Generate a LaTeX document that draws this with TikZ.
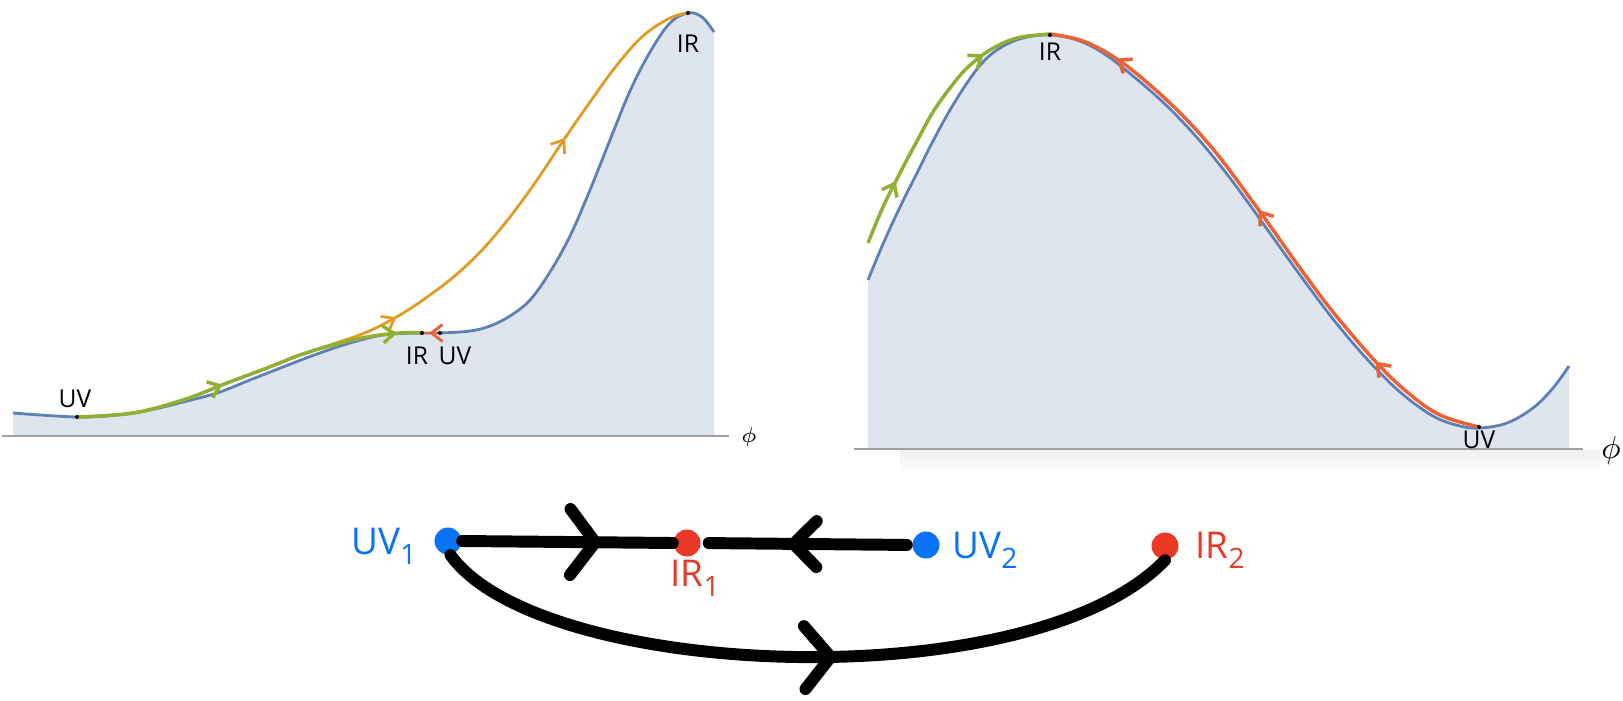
\documentclass[tikz,border=0pt]{standalone}
\usepackage{fontspec}
\setmainfont{Open Sans}
\usetikzlibrary{arrows.meta,decorations.markings}
\definecolor{pblue}{HTML}{5E81B5}
\definecolor{pfill}{HTML}{DFE5EF}
\definecolor{porange}{HTML}{E19C24}
\definecolor{pgreen}{HTML}{8FB032}
\definecolor{pred}{HTML}{EB6235}
\definecolor{hblue}{HTML}{0A72F5}
\definecolor{hred}{HTML}{EA3A27}
\newcommand\hsub[1]{\raisebox{-0.5ex}{\fontsize{8}{9}\selectfont #1}}
\tikzset{
  fa/.tip={Straight Barb[length=1.1mm,width=1.7mm]},
  curve/.style={line width=0.8pt},
  flow/.style={line width=0.8pt, postaction={decorate}},
  plab/.style={font=\fontsize{7}{8}\selectfont, inner sep=0pt},
  pdot/.style={fill=black},
  hand/.style={line width=3.4pt, line cap=round, line join=round, black, postaction={decorate}},
  hdot/.style={circle, minimum size=2.7mm, inner sep=0pt, draw=none},
  hlab/.style={font=\fontsize{10.5}{12}\selectfont, inner sep=0pt},
}
\begin{document}
\begin{tikzpicture}[x=0.1mm, y=-0.1mm]
\useasboundingbox (0,0) rectangle (1623,701);

% ---------------- left plot ----------------
\fill[pfill] (13,436) -- plot[smooth,tension=0.6] coordinates{(13,413) (77,417) (117,415) (150,410) (183,402) (217,393) (250,380) (283,367) (317,354) (350,343) (383,335) (417,333) (440,333) (470,331) (490,326) (510,316) (530,300) (550,272) (570,236) (590,190) (610,140) (630,91) (650,52) (670,23) (688,13) (702,17) (714,32)} -- (714,436) -- cycle;
\draw[gray!75, line width=0.6pt] (2,436) -- (729,436);
\node[font=\fontsize{6}{7}\selectfont, inner sep=0pt] (phiL) at (749,437) {$\phi$};
\draw[pblue, curve] plot[smooth,tension=0.6] coordinates{(13,413) (77,417) (117,415) (150,410) (183,402) (217,393) (250,380) (283,367) (317,354) (350,343) (383,335) (417,333) (440,333) (470,331) (490,326) (510,316) (530,300) (550,272) (570,236) (590,190) (610,140) (630,91) (650,52) (670,23) (688,13) (702,17) (714,32)};
% orange
\draw[porange, flow, decoration={markings, mark=at position 0.44 with {\arrow{fa}}, mark=at position 0.765 with {\arrow{fa}}}]
  plot[smooth,tension=0.6] coordinates{(77,417) (133,413) (183,400) (227,383) (267,368) (300,355) (333,344) (367,332) (400,315) (430,295) (457,274) (483,249) (510,217) (537,180) (563,141) (590,102) (617,65) (643,36) (670,18) (688,13)};
% green
\draw[pgreen, flow, line width=1pt, decoration={markings, mark=at position 0.42 with {\arrow{fa}}, mark=at position 0.93 with {\arrow{fa}}}]
  plot[smooth,tension=0.6] coordinates{(77,417) (133,413) (183,400) (227,383) (267,368) (300,355) (333,345) (367,337) (400,333) (422,333)};
% red
\draw[pred, flow, decoration={markings, mark=at position 0.6 with {\arrow{fa}}}] (440,333) -- (422,333);
\fill[pdot] (77,417) circle[radius=0.2mm];
\fill[pdot] (422,333) circle[radius=0.2mm];
\fill[pdot] (440,333) circle[radius=0.2mm];
\fill[pdot] (688,13) circle[radius=0.2mm];
\node[plab] (uvA) at (75,399) {UV};
\node[plab] (irA) at (417,356) {IR};
\node[plab] (uvB) at (455,356) {UV};
\node[plab] (irB) at (688,44) {IR};

% ---------------- right plot ----------------
\shade[top color=black!6, bottom color=white] (900,450) rectangle (1600,474);
\fill[pfill] (868,449) -- plot[smooth,tension=0.6] coordinates{(868,280) (883,244) (900,207) (917,173) (933,141) (950,110) (967,83) (983,62) (1000,48) (1023,38) (1050,35) (1077,40) (1103,53) (1133,76) (1167,106) (1200,141) (1233,182) (1267,229) (1300,275) (1333,319) (1367,359) (1400,392) (1433,416) (1460,426) (1480,428) (1507,423) (1533,408) (1553,388) (1569,366)} -- (1569,449) -- cycle;
\draw[gray!75, line width=0.6pt] (854,449) -- (1583,449);
\node[font=\fontsize{9}{10}\selectfont, inner sep=0pt] (phiR) at (1611,451) {$\phi$};
\draw[pblue, curve] plot[smooth,tension=0.6] coordinates{(868,280) (883,244) (900,207) (917,173) (933,141) (950,110) (967,83) (983,62) (1000,48) (1023,38) (1050,35) (1077,40) (1103,53) (1133,76) (1167,106) (1200,141) (1233,182) (1267,229) (1300,275) (1333,319) (1367,359) (1400,392) (1433,416) (1460,426) (1480,428) (1507,423) (1533,408) (1553,388) (1569,366)};
% green
\draw[pgreen, flow, line width=1pt, decoration={markings, mark=at position 0.23 with {\arrow{fa}}, mark=at position 0.76 with {\arrow{fa}}}]
  plot[smooth,tension=0.6] coordinates{(868,243) (883,207) (900,173) (917,141) (933,112) (950,88) (967,68) (990,50) (1017,38) (1050,34)};
% red
\draw[pred, flow, line width=1pt, decoration={markings, mark=at position 0.209 with {\arrow{fa}}, mark=at position 0.53 with {\arrow{fa}}, mark=at position 0.88 with {\arrow{fa}}}]
  plot[smooth,tension=0.6] coordinates{(1479,427) (1440,415) (1407,392) (1375,361) (1333,312) (1300,268) (1258,209) (1217,154) (1183,116) (1150,85) (1117,59) (1083,41) (1050,34)};
\fill[pdot] (1050,35) circle[radius=0.2mm];
\fill[pdot] (1479,427) circle[radius=0.2mm];
\node[plab] (irC) at (1050,52) {IR};
\node[plab] (uvC) at (1479,440) {UV};

% ---------------- bottom diagram ----------------
\node[hdot, fill=hblue] (uv1) at (448,541) {};
\node[hdot, fill=hred] (ir1) at (687,543) {};
\node[hdot, fill=hblue] (uv2) at (926,545) {};
\node[hdot, fill=hred] (ir2) at (1165,546) {};
\node[hlab, text=hblue] (uv1l) at (384,546) {UV\hsub{1}};
\node[hlab, text=hred] (ir1l) at (695,578) {IR\hsub{1}};
\node[hlab, text=hblue] (uv2l) at (985,550) {UV\hsub{2}};
\node[hlab, text=hred] (ir2l) at (1220,550) {IR\hsub{2}};

\draw[hand, decoration={markings, mark=at position 0.66 with {\arrow{Straight Barb[length=2.5mm,width=6.6mm,round]}}}]
  (uv1.east) -- (ir1.west);
\draw[hand, shorten <=0.5mm, shorten >=0.75mm, decoration={markings, mark=at position 0.59 with {\arrow{Straight Barb[length=2.3mm,width=4.6mm,round]}}}]
  (uv2.west) -- (ir1.east);
\draw[hand, decoration={markings, mark=at position 0.54 with {\arrow{Straight Barb[length=2.6mm,width=6.3mm,round]}}}]
  (uv1.-80) .. controls (540,680) and (1030,700) .. (ir2.south);
\end{tikzpicture}
\end{document}
